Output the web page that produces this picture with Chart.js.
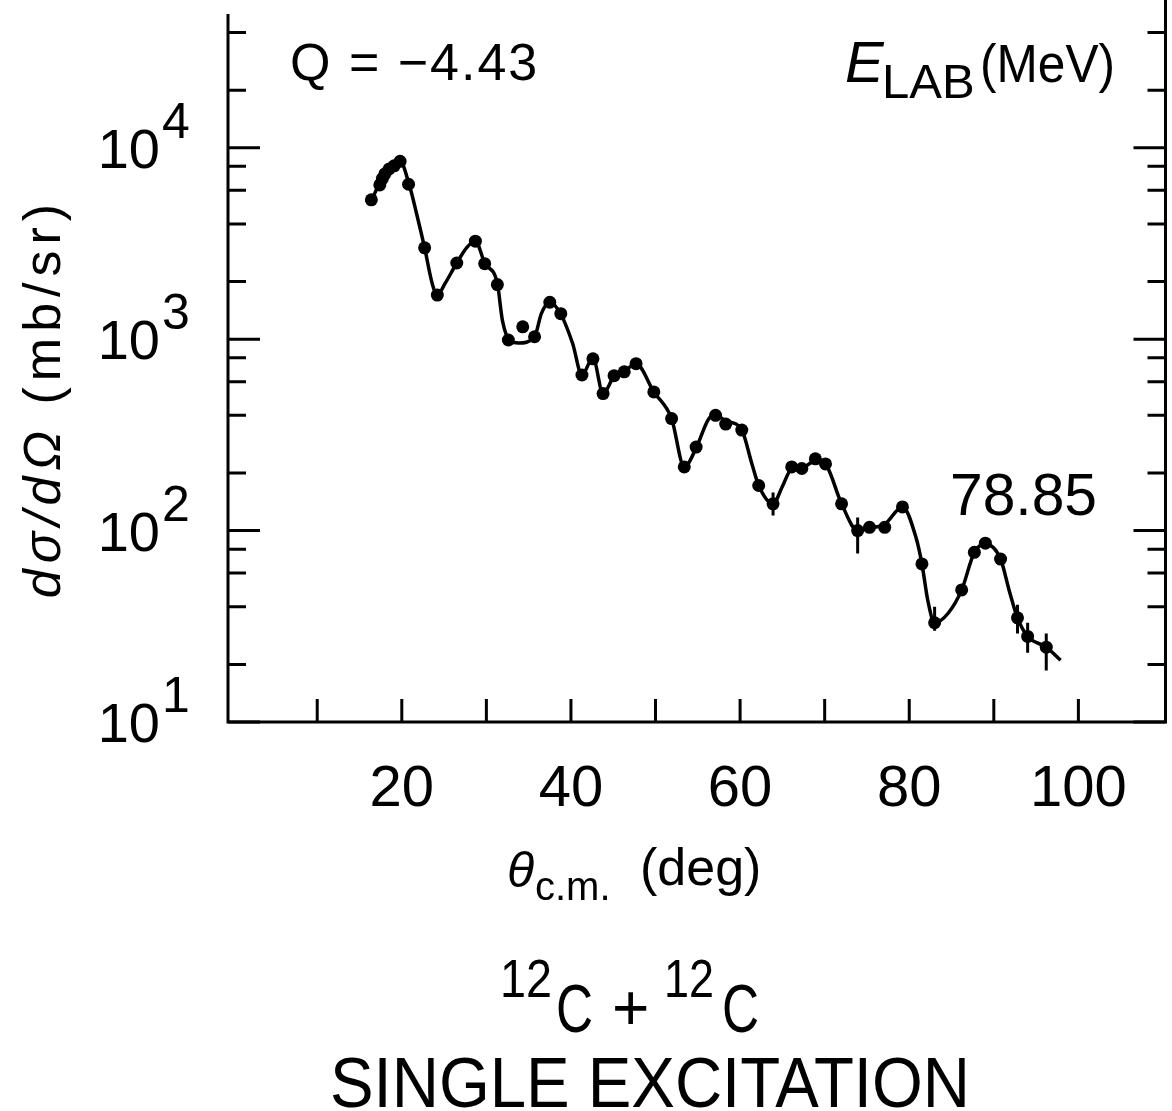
<!DOCTYPE html>
<html>
<head>
<meta charset="utf-8">
<title>12C + 12C single excitation</title>
<script src="https://cdn.jsdelivr.net/npm/chart.js@4.4.1/dist/chart.umd.min.js"></script>
<style>
    html, body { margin: 0; padding: 0; background: #fff; }
    #wrap { width: 1172px; height: 1111px; }
</style>
</head>
<body>
<div id="wrap"><canvas id="xs-chart" width="1172" height="1111"></canvas></div>
<script>
/**
 * Measured points (theta c.m. in deg, dsigma/dOmega in mb/sr)
 */
const pointAngles = [16.4, 17.4, 17.7, 18.0, 18.5, 19.1, 19.8, 20.8, 22.7, 24.2, 26.5, 28.7, 29.8, 31.3, 32.6, 34.3, 35.7, 37.5, 38.8,
    41.3, 42.6, 43.8, 45.1, 46.3, 47.7, 49.8, 51.9, 53.4, 54.8, 57.1, 58.3, 60.2, 62.2, 63.9, 66.1, 67.3, 68.9, 70.1, 72.0,
    73.9, 75.3, 77.1, 79.2, 81.5, 83.0, 86.2, 87.7, 89.0, 90.8, 92.8, 94.0, 96.2];
const pointSigma = [5350, 6400, 6900, 7300, 7750, 8050, 8500, 6450, 3000, 1700, 2500, 3250, 2480, 1930, 990, 1160, 1030, 1560, 1360,
    650, 790, 520, 645, 675, 745, 530, 385, 215, 273, 400, 360, 335, 172, 138, 215, 211, 237, 223, 138,
    100, 104, 104, 133, 67, 33, 49, 77, 86, 71, 35, 28, 24.6];

// Error bars on a few points
const errAngles = [63.9, 73.9, 83.0, 92.8, 94.0, 96.2];
const errLow = [120, 76, 30, 29, 23, 18.6];
const errHigh = [158, 117, 40, 41, 33, 29];

/**
 * Calculated curve
 */
const curveAngles = [16.4, 17.5, 18.5, 19.8, 20.8, 21.8, 22.7, 23.6, 24.2, 25.1, 26.5, 27.7, 28.7, 29.8, 31.3, 31.9, 32.8, 33.8, 35.7, 36.5,
    37.5, 38.8, 40.2, 41.3, 42.6, 43.8, 45.1, 46.3, 47.7, 49.8, 51.9, 53.4, 54.8, 56.3, 57.1, 58.3, 60.2, 61.4, 62.2, 63.9,
    65.0, 66.1, 67.3, 68.9, 70.1, 72.0, 73.9, 75.3, 77.1, 79.2, 80.8, 81.5, 82.2, 83.0, 84.6, 86.2, 87.7, 89.0, 90.8, 91.8,
    92.8, 94.0, 96.2, 97.9];
const curveSigma = [5300, 6700, 7800, 8500, 6600, 4430, 3000, 1950, 1700, 1950, 2500, 3020, 3250, 2500, 1950, 1250, 980, 955, 1030, 1360,
    1560, 1350, 950, 650, 800, 520, 640, 680, 745, 530, 385, 215, 270, 384, 400, 375, 335, 223, 172, 138,
    170, 210, 212, 232, 222, 138, 100, 103, 108, 133, 92, 67, 43, 33, 37, 49, 77, 85, 71, 49,
    35, 28, 24.6, 21];

// Axes
const xTickValues = [10, 20, 30, 40, 50, 60, 70, 80, 90, 100];
const xLabelValues = [20, 40, 60, 80, 100];
const yExponents = [1, 2, 3, 4];
const yMinorSteps = [2, 4, 6, 8];

const INK = '#000';
const FONT = '"Liberation Sans", Arial, sans-serif';

/**
 * Draw text, optionally squeezed to a max width
 */
function text(ctx, str, x, y, font, opts) {
    opts = opts || {};
    ctx.font = font;
    ctx.textAlign = opts.align || 'left';
    ctx.textBaseline = opts.baseline || 'alphabetic';
    ctx.letterSpacing = opts.spacing || '0px';
    if (opts.maxWidth) {
        ctx.fillText(str, x, y, opts.maxWidth);
    } else {
        ctx.fillText(str, x, y);
    }
    ctx.letterSpacing = '0px';
}

/**
 * Frame, inward ticks, log labels and annotations
 */
const framePlugin = {
    id: 'frame',
    afterDraw(chart) {
        const { ctx, chartArea: a, scales: { x, y } } = chart;
        ctx.save();
        ctx.strokeStyle = INK;
        ctx.fillStyle = INK;
        ctx.lineWidth = 3;

        // axis lines
        ctx.beginPath();
        ctx.moveTo(a.left, a.top);
        ctx.lineTo(a.left, a.bottom);
        ctx.lineTo(a.right, a.bottom);
        ctx.lineTo(a.right, 0);
        ctx.stroke();

        // y ticks on both sides
        const yTick = (v, len) => {
            if (v > y.max || v < y.min) return;
            const py = y.getPixelForValue(v);
            ctx.beginPath();
            ctx.moveTo(a.left, py);
            ctx.lineTo(a.left + len, py);
            ctx.moveTo(a.right, py);
            ctx.lineTo(a.right - len, py);
            ctx.stroke();
        };
        yExponents.forEach(e => {
            const base = Math.pow(10, e);
            yTick(base, 32);
            yMinorSteps.forEach(m => yTick(base * m, 18));
        });

        // x ticks
        xTickValues.forEach(v => {
            const px = x.getPixelForValue(v);
            ctx.beginPath();
            ctx.moveTo(px, a.bottom);
            ctx.lineTo(px, a.bottom - 23);
            ctx.stroke();
        });

        // y tick labels 10^n
        yExponents.forEach(e => {
            const py = y.getPixelForValue(Math.pow(10, e));
            text(ctx, '10', 160, py + 20, '56px ' + FONT, { align: 'right' });
            text(ctx, String(e), 162, py - 10, '50px ' + FONT);
        });

        // y axis title
        ctx.save();
        ctx.translate(60, 398);
        ctx.rotate(-Math.PI / 2);
        ctx.letterSpacing = '6px';
        ctx.font = 'italic 52px ' + FONT;
        const w1 = ctx.measureText('dσ/dΩ').width;
        ctx.font = '52px ' + FONT;
        const w2 = ctx.measureText(' (mb/sr)').width;
        const start = -(w1 + w2) / 2;
        text(ctx, 'dσ/dΩ', start, 0, 'italic 52px ' + FONT, { spacing: '6px' });
        text(ctx, ' (mb/sr)', start + w1, 0, '52px ' + FONT, { spacing: '6px' });
        ctx.restore();

        // x axis title
        text(ctx, 'θ', 507, 887, 'italic 50px ' + FONT);
        text(ctx, 'c.m.', 535, 900, '40px ' + FONT, { maxWidth: 84 });
        text(ctx, '(deg)', 640, 885, '52px ' + FONT, { maxWidth: 124 });

        // annotations inside the frame
        text(ctx, 'Q = −4.43', 290, 80, '52px ' + FONT, { spacing: '2px', maxWidth: 252 });
        text(ctx, 'E', 845, 82, 'italic 58px ' + FONT);
        text(ctx, 'LAB', 882, 98, '49px ' + FONT, { maxWidth: 98 });
        text(ctx, '(MeV)', 980, 82, '54px ' + FONT, { maxWidth: 135 });
        text(ctx, '78.85', 950, 515, '60px ' + FONT, { maxWidth: 147 });

        // reaction caption
        text(ctx, '12', 500, 997, '54px ' + FONT, { maxWidth: 52 });
        text(ctx, 'C', 556, 1032, '68px ' + FONT, { maxWidth: 37 });
        text(ctx, '+', 612, 1030, '64px ' + FONT, { maxWidth: 38 });
        text(ctx, '12', 664, 997, '54px ' + FONT, { maxWidth: 50 });
        text(ctx, 'C', 722, 1032, '68px ' + FONT, { maxWidth: 37 });
        text(ctx, 'SINGLE EXCITATION', 330, 1107, '70px ' + FONT, { maxWidth: 640 });

        ctx.restore();
    }
};

/**
 * Build datasets from the arrays
 */
const points = pointAngles.map((a, i) => ({ x: a, y: pointSigma[i] }));
const curve = curveAngles.map((a, i) => ({ x: a, y: curveSigma[i] }));
const errBars = [];
errAngles.forEach((a, i) => {
    errBars.push({ x: a, y: errLow[i] });
    errBars.push({ x: a, y: errHigh[i] });
    errBars.push({ x: a, y: null });
});

const ctx = document.getElementById('xs-chart');

new Chart(ctx, {
    type: 'scatter',
    data: {
        datasets: [{
            label: 'data',
            data: points,
            pointRadius: 6.5,
            pointBackgroundColor: INK,
            pointBorderColor: INK,
            pointBorderWidth: 0
        }, {
            label: 'errors',
            data: errBars,
            showLine: true,
            spanGaps: false,
            borderColor: INK,
            borderWidth: 3,
            pointRadius: 0
        }, {
            label: 'calculation',
            data: curve,
            showLine: true,
            borderColor: INK,
            borderWidth: 3.5,
            pointRadius: 0,
            cubicInterpolationMode: 'monotone'
        }]
    },
    options: {
        responsive: false,
        animation: false,
        layout: {
            padding: { top: 14, right: 4, left: 0, bottom: 0 }
        },
        plugins: {
            legend: { display: false },
            tooltip: { enabled: false }
        },
        scales: {
            x: {
                type: 'linear',
                min: -0.55,
                max: 110.3,
                grid: { display: false, drawTicks: false },
                border: { display: false },
                afterBuildTicks: function(scale) {
                    scale.ticks = xTickValues.map(v => ({ value: v }));
                },
                afterFit: function(scale) {
                    scale.height = 389;
                },
                ticks: {
                    autoSkip: false,
                    maxRotation: 0,
                    padding: 33,
                    color: INK,
                    font: { family: FONT, size: 58 },
                    callback: function(value) {
                        return xLabelValues.includes(value) ? String(value) : '';
                    }
                }
            },
            y: {
                type: 'logarithmic',
                min: 10,
                max: 50000,
                grid: { display: false, drawTicks: false },
                border: { display: false },
                ticks: { display: false },
                afterFit: function(scale) {
                    scale.width = 228;
                }
            }
        }
    },
    plugins: [framePlugin]
});
</script>
</body>
</html>
